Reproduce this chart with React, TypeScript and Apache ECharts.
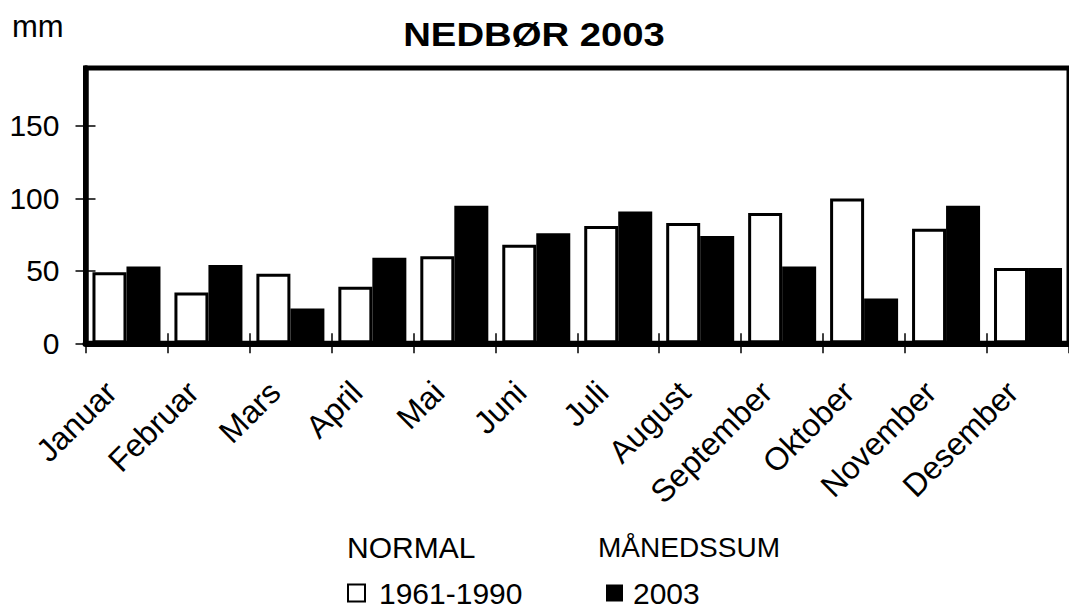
import React, { useEffect, useRef } from "react";
import * as echarts from "echarts";

const months = ["Januar", "Februar", "Mars", "April", "Mai", "Juni", "Juli", "August", "September", "Oktober", "November", "Desember"];
const normal = [49, 35, 48, 39, 60, 68, 81, 83, 90, 100, 79, 52];
const sum2003 = [53, 54, 24, 59, 95, 76, 91, 74, 53, 31, 95, 52];
const yTicks = { min: 0, max: 190, interval: 50 };

const FONT = "'Liberation Sans', Arial, Helvetica, sans-serif";

export default function App() {
  const ref = useRef<HTMLDivElement>(null);
  useEffect(() => {
    if (!ref.current) return;
    const chart = echarts.init(ref.current, undefined, { renderer: "svg" });
    const option: any = {
      animation: false,
      backgroundColor: "#fff",
      textStyle: { fontFamily: FONT, color: "#000" },
      grid: {
        left: 85.5,
        top: 68,
        right: -6.5,
        bottom: 266.7,
        show: true,
        borderColor: "#000",
        borderWidth: 5,
        backgroundColor: "transparent",
        containLabel: false,
      },
      xAxis: [
        {
          type: "category",
          data: months,
          position: "bottom",
          axisLine: { show: true, lineStyle: { color: "#000", width: 6 } },
          axisTick: { show: true, inside: false, length: 10, lineStyle: { color: "#000", width: 1.5 } },
          axisLabel: {
            show: true,
            rotate: 45,
            interval: 0,
            fontSize: 32,
            fontFamily: FONT,
            color: "#000",
            margin: 28,
            padding: [0, 22, 0, 0],
          },
          splitLine: { show: false },
          z: 5,
        },
        {
          type: "category",
          data: months,
          position: "bottom",
          axisLine: { show: false },
          axisTick: { show: true, inside: true, length: 10, lineStyle: { color: "#000", width: 1.5 } },
          axisLabel: { show: false },
          splitLine: { show: false },
          z: 5,
        },
      ],
      yAxis: [
        {
          type: "value",
          min: yTicks.min,
          max: yTicks.max,
          interval: yTicks.interval,
          position: "left",
          axisLine: { show: true, lineStyle: { color: "#000", width: 5.5 } },
          axisTick: { show: true, inside: false, length: 10, lineStyle: { color: "#000", width: 1.5 } },
          axisLabel: {
            show: true,
            fontSize: 30,
            fontFamily: FONT,
            color: "#000",
            margin: 26,
            showMaxLabel: false,
          },
          splitLine: { show: false },
          z: 5,
        },
        {
          type: "value",
          min: yTicks.min,
          max: yTicks.max,
          interval: yTicks.interval,
          position: "left",
          axisLine: { show: false },
          axisTick: { show: true, inside: true, length: 10, lineStyle: { color: "#000", width: 1.5 } },
          axisLabel: { show: false },
          splitLine: { show: false },
          z: 5,
        },
      ],
      legend: [
        {
          data: [{ name: "1961-1990", icon: "rect", itemStyle: { color: "#fff", borderColor: "#000", borderWidth: 2 } }],
          left: 347,
          top: 578,
          padding: 0,
          itemWidth: 17,
          itemHeight: 17,
          selectedMode: false,
          textStyle: { fontSize: 30, fontFamily: FONT, color: "#000", padding: [0, 0, 0, 9] },
        },
        {
          data: [{ name: "2003", icon: "rect", itemStyle: { color: "#000", borderColor: "#000", borderWidth: 0 } }],
          left: 606,
          top: 578,
          padding: 0,
          itemWidth: 17,
          itemHeight: 17,
          selectedMode: false,
          textStyle: { fontSize: 30, fontFamily: FONT, color: "#000", padding: [0, 0, 0, 5] },
        },
      ],
      graphic: [
        {
          type: "text",
          left: 12,
          top: 11,
          style: { text: "mm", fontSize: 31, fontFamily: FONT, fill: "#000" },
        },
        {
          type: "text",
          x: 534,
          y: 35,
          scaleX: 1.16,
          style: { text: "NEDBØR 2003", fontSize: 33, fontWeight: "bold", fontFamily: FONT, fill: "#000", align: "center", verticalAlign: "middle" },
        },
        {
          type: "text",
          x: 347,
          y: 547,
          style: { text: "NORMAL", fontSize: 30, fontFamily: FONT, fill: "#000", align: "left", verticalAlign: "middle" },
        },
        {
          type: "text",
          x: 598,
          y: 547,
          style: { text: "MÅNEDSSUM", fontSize: 28, fontFamily: FONT, fill: "#000", align: "left", verticalAlign: "middle" },
        },
      ],
      series: [
        {
          name: "1961-1990",
          type: "bar",
          data: normal,
          xAxisIndex: 0,
          yAxisIndex: 0,
          barWidth: 34,
          barGap: "0%",
          itemStyle: { color: "#fff", borderColor: "#000", borderWidth: 3 },
          z: 2,
        },
        {
          name: "2003",
          type: "bar",
          data: sum2003,
          xAxisIndex: 0,
          yAxisIndex: 0,
          barWidth: 34,
          barGap: "0%",
          itemStyle: { color: "#000", borderColor: "#000", borderWidth: 3 },
          z: 2,
        },
      ],
    };
    chart.setOption(option);
    return () => chart.dispose();
  }, []);
  return <div ref={ref} style={{ position: "fixed", left: 0, top: 0, width: 1069, height: 610, overflow: "hidden" }} />;
}
